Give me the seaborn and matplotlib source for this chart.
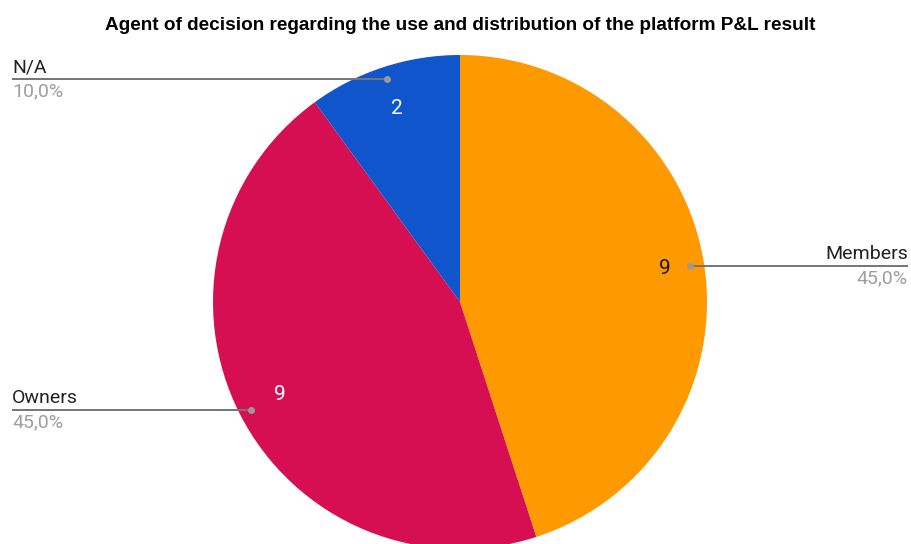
import matplotlib
matplotlib.use("Agg")
import matplotlib.pyplot as plt
import seaborn as sns

# Responses on who decides how the platform P&L result is used and distributed
categories = ["Members", "Owners", "N/A"]
counts = [9, 9, 2]
percent_labels = ["45,0%", "45,0%", "10,0%"]
slice_colors = ["#FF9900", "#D60F52", "#1155CC"]
value_text_colors = ["#1a1a1a", "white", "white"]

sns.set_theme(style="white")
plt.rcParams["font.family"] = ["Roboto", "DejaVu Sans"]

W, H = 911, 544
fig = plt.figure(figsize=(W / 100, H / 100), dpi=100)
ax = fig.add_axes([0, 0, 1, 1])

cx, cy, r = 460, H - 302, 247
wedges, _ = ax.pie(
    counts,
    colors=slice_colors,
    startangle=90,
    counterclock=False,
    center=(cx, cy),
    radius=r,
    frame=True,
    wedgeprops=dict(linewidth=0),
)
ax.set_xlim(0, W)
ax.set_ylim(0, H)
ax.set_aspect("equal")
ax.axis("off")

# value labels inside the slices
value_pos = [(665, 269), (280, 395), (397, 109)]
for (x, y), v, c in zip(value_pos, counts, value_text_colors):
    ax.text(x, H - y, str(v), ha="center", va="center", fontsize=15, color=c)

# leader lines with category and share labels
leaders = [
    # dot (x, y), line end x, side
    ((690, 266), 908, "right"),
    ((251, 410), 12, "left"),
    ((387, 79), 12, "left"),
]
line_color = "#757575"
for (dot, end_x, side), name, pct in zip(leaders, categories, percent_labels):
    dx, dy = dot
    y = H - dy
    ax.plot([dx, end_x], [y, y], color=line_color, lw=1.4, solid_capstyle="butt", zorder=3)
    ax.plot([dx], [y], marker="o", ms=5, color="#9a9a9a", mec="none", zorder=4)
    ha = "right" if side == "right" else "left"
    ax.text(end_x, y + 3, name, ha=ha, va="bottom", fontsize=14, color="#222222")
    ax.text(end_x, y - 3, pct, ha=ha, va="top", fontsize=14, color="#9e9e9e")

fig.text(
    460 / W, 1 - 25 / H,
    "Agent of decision regarding the use and distribution of the platform P&L result",
    ha="center", va="center", fontsize=13.7, fontweight="bold",
    family=["Liberation Sans", "DejaVu Sans"], color="#000000",
)

fig.savefig("out.png", dpi=100)
